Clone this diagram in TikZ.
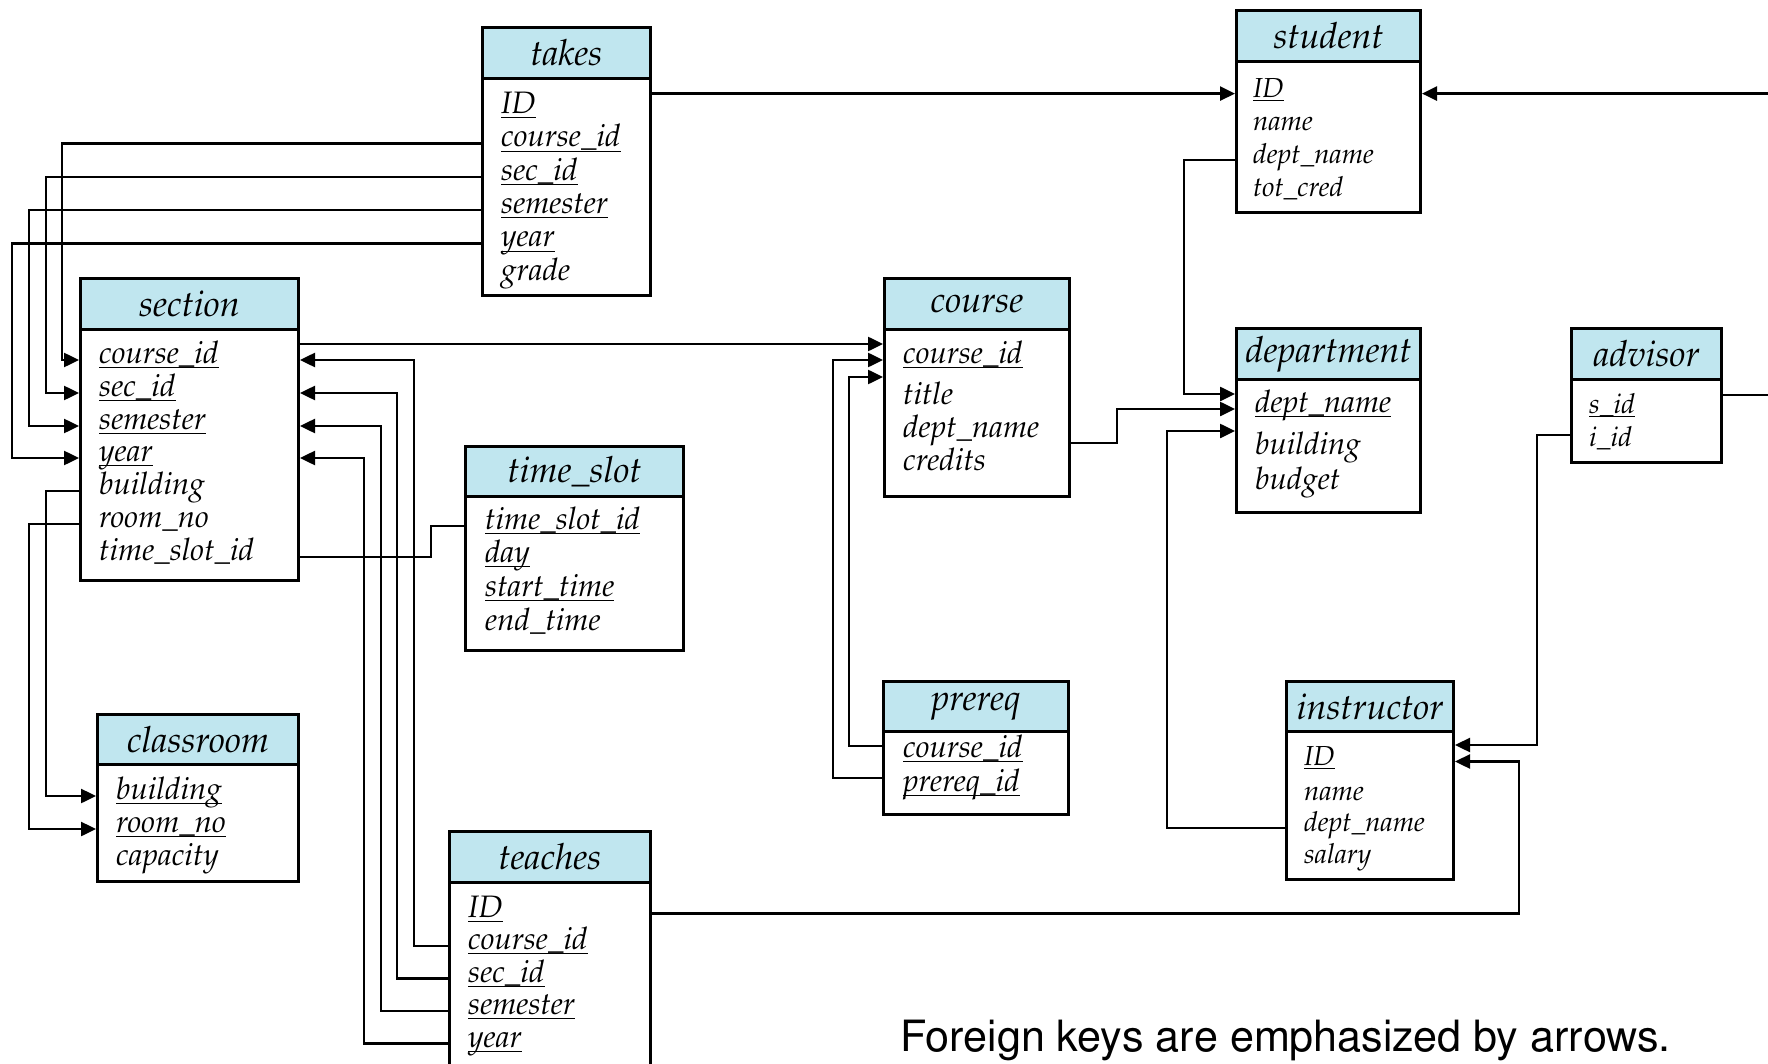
\documentclass[tikz,border=0pt]{standalone}
\usepackage[T1]{fontenc}
\usepackage{mathpazo}
\usepackage{helvet}
\usetikzlibrary{arrows.meta}
\definecolor{hdrblue}{RGB}{192,230,239}
\newcommand{\keyattr}[1]{\underline{\smash{#1}}}

\begin{document}
\begin{tikzpicture}[x=1pt,y=-1pt,
	tblhead/.style={draw,line width=3pt,fill=hdrblue,anchor=north west,inner sep=0pt,font=\fontsize{36}{40}\selectfont\itshape},
	tblbody/.style={draw,line width=3pt,fill=white,anchor=north west,inner sep=0pt},
	attr/.style={anchor=west,inner sep=0pt,text height=21pt,text depth=14pt,font=\fontsize{31}{34}\selectfont\itshape},
	sattr/.style={attr,text height=19pt,text depth=12pt,font=\fontsize{27.5}{30}\selectfont\itshape},
	fk/.style={line width=2.5pt,-{Triangle[length=15pt,width=14pt]}},
	link/.style={line width=2.5pt}]
	\useasboundingbox (0,0) rectangle (1768,1064);
	\clip (0,0) rectangle (1768,1064);
	\fill[white] (0,0) rectangle (1768,1064);

	% takes
	\node[tblhead,minimum width=168pt,minimum height=51pt] (takes-h) at (481,26) {takes};
	\node[tblbody,minimum width=168pt,minimum height=217pt] (takes) at (481,77) {};
	\node[attr] (tkId) at (501,110) {\keyattr{ID}};
	\node[attr] (tkCid) at (501,143.5) {\keyattr{course\_id}};
	\node[attr] (tkSec) at (501,177) {\keyattr{sec\_id}};
	\node[attr] (tkSem) at (501,210) {\keyattr{semester}};
	\node[attr] (tkYear) at (501,243.5) {\keyattr{year}};
	\node[attr] (tkGrade) at (501,277) {grade};

	% student
	\node[tblhead,minimum width=184pt,minimum height=51pt] (student-h) at (1235,9) {student};
	\node[tblbody,minimum width=184pt,minimum height=151pt] (student) at (1235,60) {};
	\node[sattr] (stId) at (1253,93.6) {\keyattr{ID}};
	\node[sattr] (stName) at (1253,127) {name};
	\node[sattr] (stDept) at (1253,160) {dept\_name};
	\node[sattr] (stCred) at (1253,193) {tot\_cred};

	% section
	\node[tblhead,minimum width=218pt,minimum height=51pt] (section-h) at (79,277) {section};
	\node[tblbody,minimum width=218pt,minimum height=251pt] (section) at (79,328) {};
	\node[attr] (scCid) at (99,360) {\keyattr{course\_id}};
	\node[attr] (scSec) at (99,393) {\keyattr{sec\_id}};
	\node[attr] (scSem) at (99,426) {\keyattr{semester}};
	\node[attr] (scYear) at (99,458) {\keyattr{year}};
	\node[attr] (scBldg) at (99,491) {building};
	\node[attr] (scRoom) at (99,524) {room\_no};
	\node[attr] (scTs) at (99,557) {time\_slot\_id};

	% time_slot
	\node[tblhead,minimum width=218pt,minimum height=50pt] (timeslot-h) at (464,445) {time\_slot};
	\node[tblbody,minimum width=218pt,minimum height=154pt] (timeslot) at (464,495) {};
	\node[attr] (tsId) at (485,526) {\keyattr{time\_slot\_id}};
	\node[attr] (tsDay) at (485,559) {\keyattr{day}};
	\node[attr] (tsStart) at (485,593) {\keyattr{start\_time}};
	\node[attr] (tsEnd) at (485,627) {end\_time};

	% course
	\node[tblhead,minimum width=185pt,minimum height=51pt] (course-h) at (883,277) {course};
	\node[tblbody,minimum width=185pt,minimum height=167pt] (course) at (883,328) {};
	\node[attr] (crsCid) at (903,360) {\keyattr{course\_id}};
	\node[attr] (crsTitle) at (903,401) {title};
	\node[attr] (crsDept) at (903,434) {dept\_name};
	\node[attr] (crsCred) at (903,467) {credits};

	% department
	\node[tblhead,minimum width=184pt,minimum height=51pt] (department-h) at (1235,327) {department};
	\node[tblbody,minimum width=184pt,minimum height=133pt] (department) at (1235,378) {};
	\node[attr] (dpName) at (1255,409) {\keyattr{dept\_name}};
	\node[attr] (dpBldg) at (1255,451) {building};
	\node[attr] (dpBudget) at (1255,486) {budget};

	% advisor
	\node[tblhead,minimum width=150pt,minimum height=51pt] (advisor-h) at (1570,327) {advisor};
	\node[tblbody,minimum width=150pt,minimum height=83pt] (advisor) at (1570,378) {};
	\node[sattr] (adS) at (1589,409.5) {\keyattr{s\_id}};
	\node[sattr] (adI) at (1589,442.5) {i\_id};

	% prereq
	\node[tblhead,minimum width=185pt,minimum height=50pt] (prereq-h) at (882,680) {prereq};
	\node[tblbody,minimum width=185pt,minimum height=83pt] (prereq) at (882,730) {};
	\node[attr] (prCid) at (903,754) {\keyattr{course\_id}};
	\node[attr] (prPre) at (903,788) {\keyattr{prereq\_id}};

	% instructor
	\node[tblhead,minimum width=167pt,minimum height=50pt] (instructor-h) at (1285,680) {instructor};
	\node[tblbody,minimum width=167pt,minimum height=148pt] (instructor) at (1285,730) {};
	\node[sattr] (inId) at (1304,761.5) {\keyattr{ID}};
	\node[sattr] (inName) at (1304,796.5) {name};
	\node[sattr] (inDept) at (1304,828) {dept\_name};
	\node[sattr] (inSal) at (1304,859.5) {salary};

	% classroom
	\node[tblhead,minimum width=201pt,minimum height=50pt] (classroom-h) at (96,713) {classroom};
	\node[tblbody,minimum width=201pt,minimum height=117pt] (classroom) at (96,763) {};
	\node[attr] (clBldg) at (116,796) {\keyattr{building}};
	\node[attr] (clRoom) at (116,829) {\keyattr{room\_no}};
	\node[attr] (clCap) at (116,862) {capacity};

	% teaches
	\node[tblhead,minimum width=201pt,minimum height=51pt] (teaches-h) at (448,830) {teaches};
	\node[tblbody,minimum width=201pt,minimum height=200pt] (teaches) at (448,881) {};
	\node[attr] (thId) at (468,913.5) {\keyattr{ID}};
	\node[attr] (thCid) at (468,946) {\keyattr{course\_id}};
	\node[attr] (thSec) at (468,978.5) {\keyattr{sec\_id}};
	\node[attr] (thSem) at (468,1011) {\keyattr{semester}};
	\node[attr] (thYear) at (468,1043.5) {\keyattr{year}};

	\node[anchor=base west,inner sep=0pt,font=\fontsize{43.1}{50}\selectfont\sffamily] (note) at (900,1051) {Foreign keys are emphasized by arrows.};

	% takes
	\draw[fk] (takes.east |- stId) -- (student.west |- stId);
	\draw[fk] (takes.west |- tkCid) -| (62,0 |- scCid) -- (section.west |- scCid);
	\draw[fk] (takes.west |- tkSec) -| (46,0 |- scSec) -- (section.west |- scSec);
	\draw[fk] (takes.west |- tkSem) -| (29,0 |- scSem) -- (section.west |- scSem);
	\draw[fk] (takes.west |- tkYear) -| (12,0 |- scYear) -- (section.west |- scYear);
	% section
	\draw[fk] (section.west |- scBldg) -| (46,0 |- clBldg) -- (classroom.west |- clBldg);
	\draw[fk] (section.west |- scRoom) -| (29,0 |- clRoom) -- (classroom.west |- clRoom);
	\draw[link] (section.east |- scTs) -| (431,0 |- tsId) -- (timeslot.west |- tsId);
	\draw[fk] (section.east |- 0,344) -- (course.west |- 0,344);
	% teaches
	\draw[fk] (teaches.west |- thCid) -| (414,0 |- scCid) -- (section.east |- scCid);
	\draw[fk] (teaches.west |- thSec) -| (397,0 |- scSec) -- (section.east |- scSec);
	\draw[fk] (teaches.west |- thSem) -| (381,0 |- scSem) -- (section.east |- scSem);
	\draw[fk] (teaches.west |- thYear) -| (364,0 |- scYear) -- (section.east |- scYear);
	\draw[fk] (teaches.east |- thId) -| (1519,0 |- inId) -- (instructor.east |- inId);
	% prereq
	\draw[fk] (prereq.west |- 0,746) -| (849,377) -- (course.west |- 0,377);
	\draw[fk] (prereq.west |- 0,778) -| (833,0 |- crsCid) -- (course.west |- crsCid);
	% department
	\draw[fk] (course.east |- 0,443) -| (1117,0 |- dpName) -- (department.west |- dpName);
	\draw[fk] (student.west |- stDept) -| (1184,394) -- (department.west |- 0,394);
	\draw[fk] (instructor.west |- inDept) -| (1167,431) -- (department.west |- 0,431);
	% advisor
	\coordinate (offR) at (1800,395);
	\draw[fk] (advisor.west |- 0,435) -| (1537,745) -- (instructor.east |- 0,745);
	\draw[fk] (advisor.east |- offR) -- (offR) |- (student.east |- stId);
\end{tikzpicture}
\end{document}
